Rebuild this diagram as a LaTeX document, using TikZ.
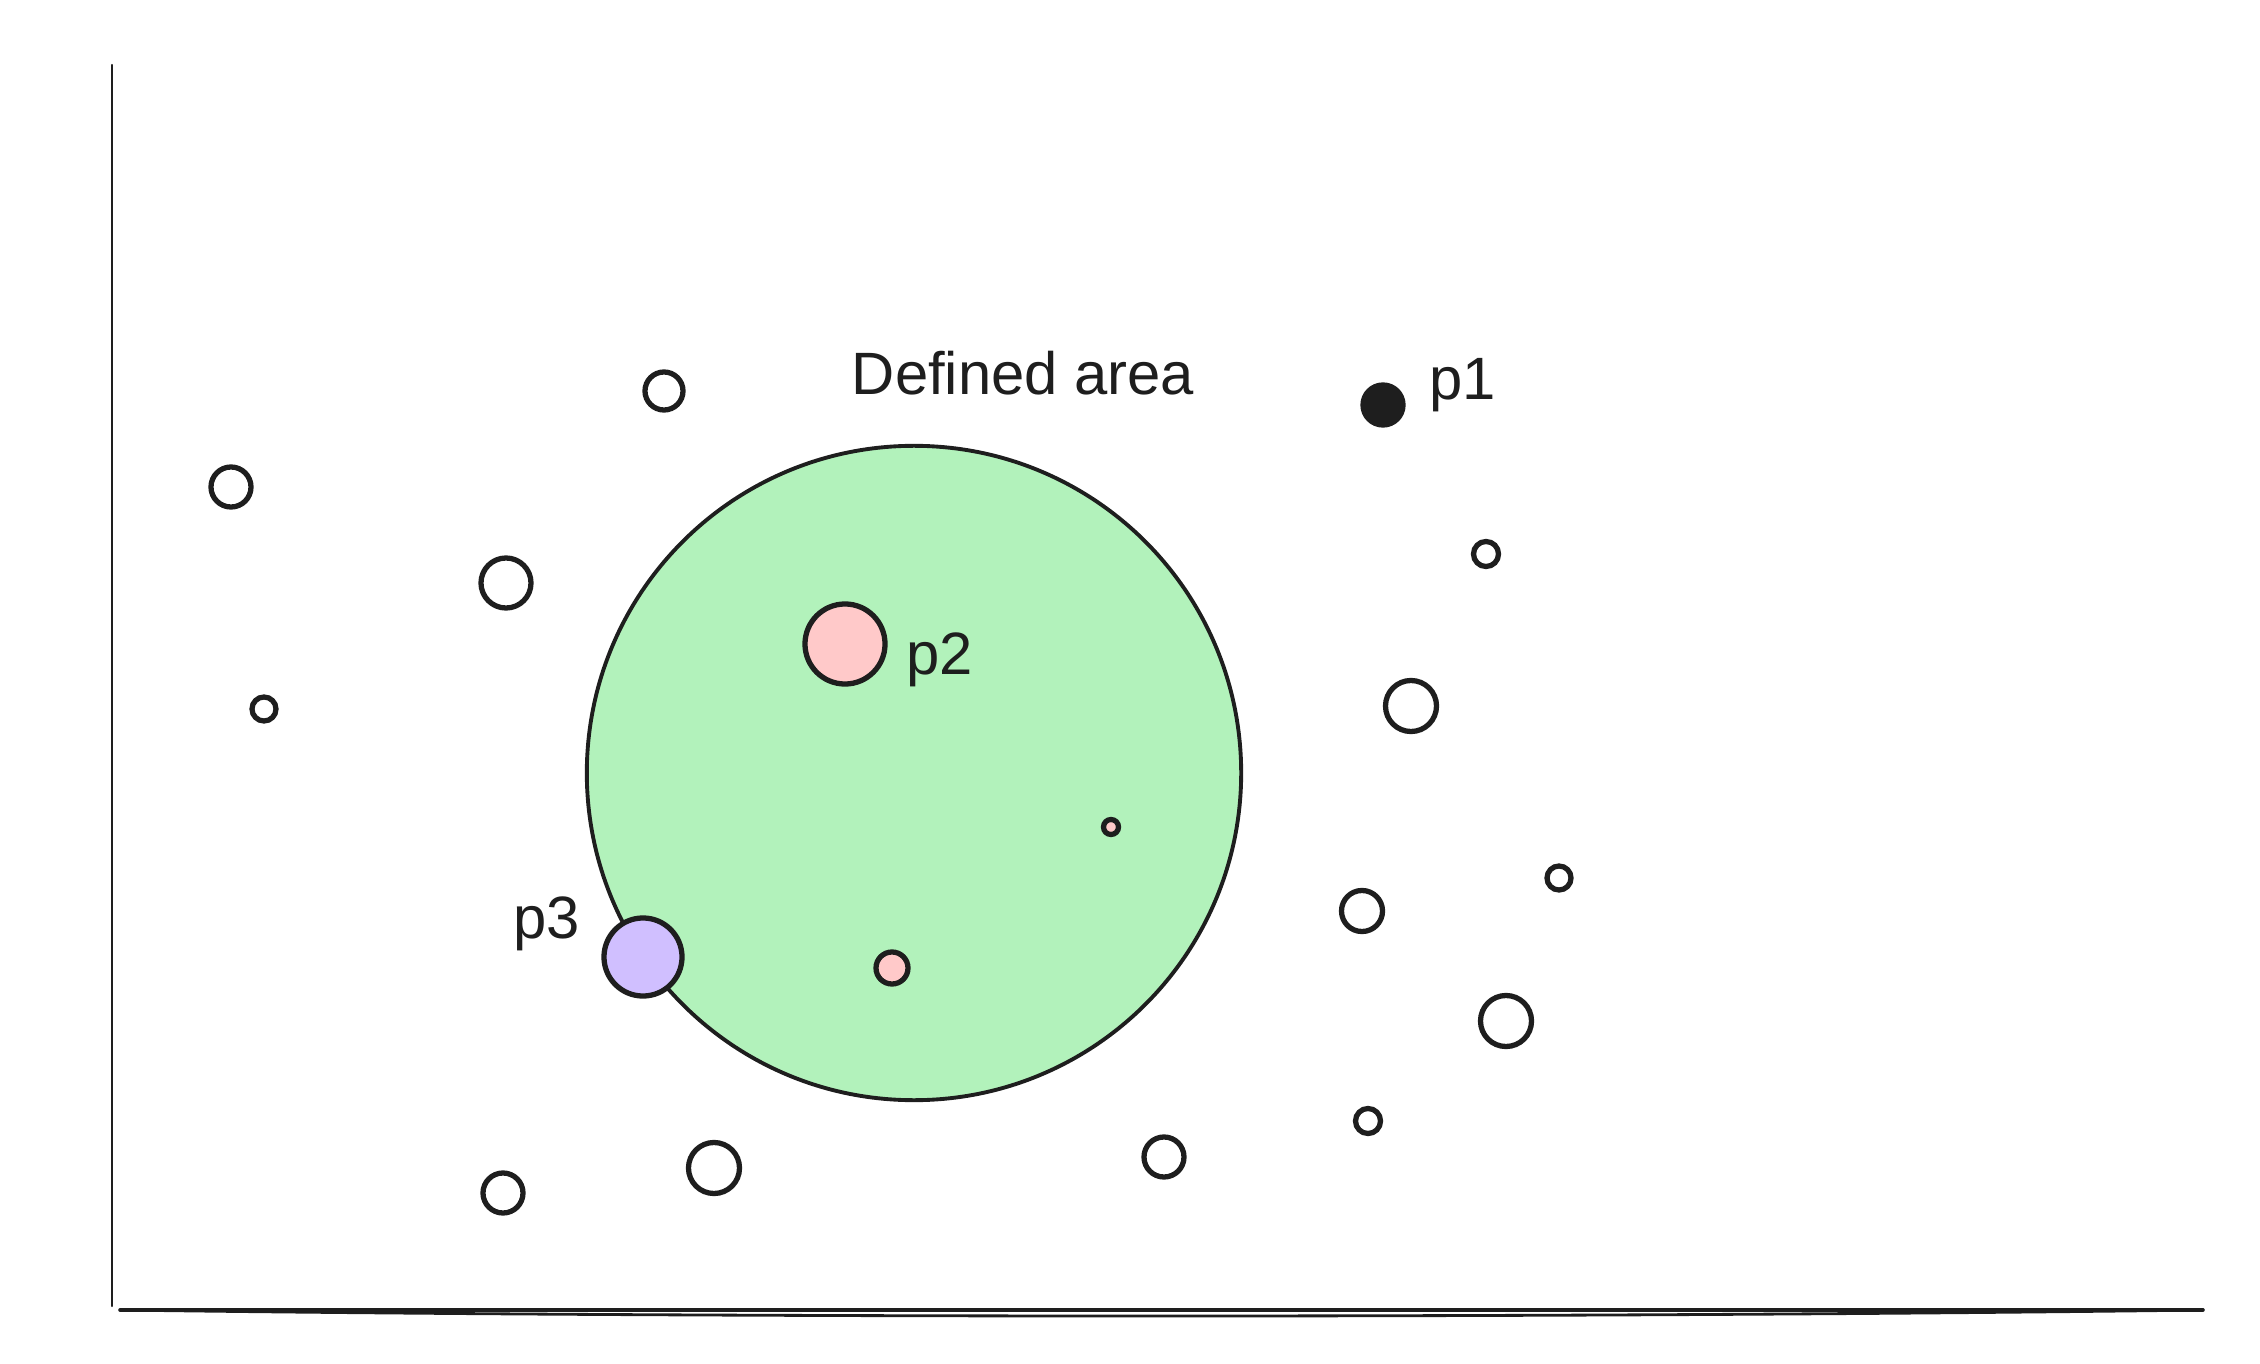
\documentclass[tikz,border=0pt]{standalone}
\usepackage{fontspec}
\setmainfont{Liberation Sans}
\definecolor{ink}{HTML}{1E1E1E}
\definecolor{areagreen}{HTML}{B2F2BB}
\definecolor{ptpink}{HTML}{FFC9C9}
\definecolor{ptpurple}{HTML}{D0BFFF}
\begin{document}
\begin{tikzpicture}[x=0.01cm,y=-0.01cm,
  pt/.style={circle,draw=ink,line width=1.5pt,inner sep=0pt,outer sep=0pt},
  area/.style={circle,draw=ink,fill=areagreen,line width=1.1pt,inner sep=0pt,outer sep=0pt,minimum size=6.54cm},
  lbl/.style={font=\fontsize{17}{20}\selectfont,text=ink,inner sep=0pt,outer sep=0pt},
  axisline/.style={draw=ink,line cap=round}]
\useasboundingbox (0,0) rectangle (2260,1364);
% axes
\coordinate (yt) at (112,65);
\coordinate (yb) at (112,1306);
\coordinate (xl) at (120,1310);
\coordinate (xr) at (2203,1310);
\draw[axisline,line width=0.6pt] (yt) -- (yb);
\draw[axisline,line width=1.0pt] (xl) -- (xr);
\draw[axisline,line width=0.8pt] (xl) .. controls (700,1318) and (1600,1318) .. (xr);
% defined area
\node[area] (area) at (914,773) {};
\node[lbl,anchor=base] (title) at (1023,395) {Defined area};
% points
\node[pt,minimum size=0.38cm] (a1) at (664,391) {};
\node[pt,minimum size=0.40cm] (a2) at (231,487) {};
\node[pt,minimum size=0.50cm] (a3) at (506,583) {};
\node[pt,minimum size=0.24cm] (a4) at (264,709) {};
\node[pt,fill=ink,minimum size=0.40cm] (p1) at (1383,405) {};
\node[pt,minimum size=0.25cm] (a5) at (1486,554) {};
\node[pt,minimum size=0.51cm] (a6) at (1411,706) {};
\node[pt,minimum size=0.24cm] (a7) at (1559,878) {};
\node[pt,minimum size=0.41cm] (a8) at (1362,911) {};
\node[pt,minimum size=0.51cm] (a9) at (1506,1021) {};
\node[pt,minimum size=0.25cm] (a10) at (1368,1121) {};
\node[pt,minimum size=0.40cm] (a11) at (503,1193) {};
\node[pt,minimum size=0.51cm] (a12) at (714,1168) {};
\node[pt,minimum size=0.40cm] (a13) at (1164,1157) {};
\node[pt,fill=ptpink,minimum size=0.80cm] (p2) at (845,644) {};
\node[pt,fill=ptpurple,minimum size=0.78cm] (p3) at (643,957) {};
\node[pt,fill=ptpink,minimum size=0.32cm] (s1) at (892,968) {};
\node[pt,fill=ptpink,minimum size=0.15cm] (s2) at (1111,827) {};
% labels
\node[lbl,anchor=base west] (l1) at (1429,400) {p1};
\node[lbl,anchor=base west] (l2) at (906,674) {p2};
\node[lbl,anchor=base west] (l3) at (513,938) {p3};
\end{tikzpicture}
\end{document}
